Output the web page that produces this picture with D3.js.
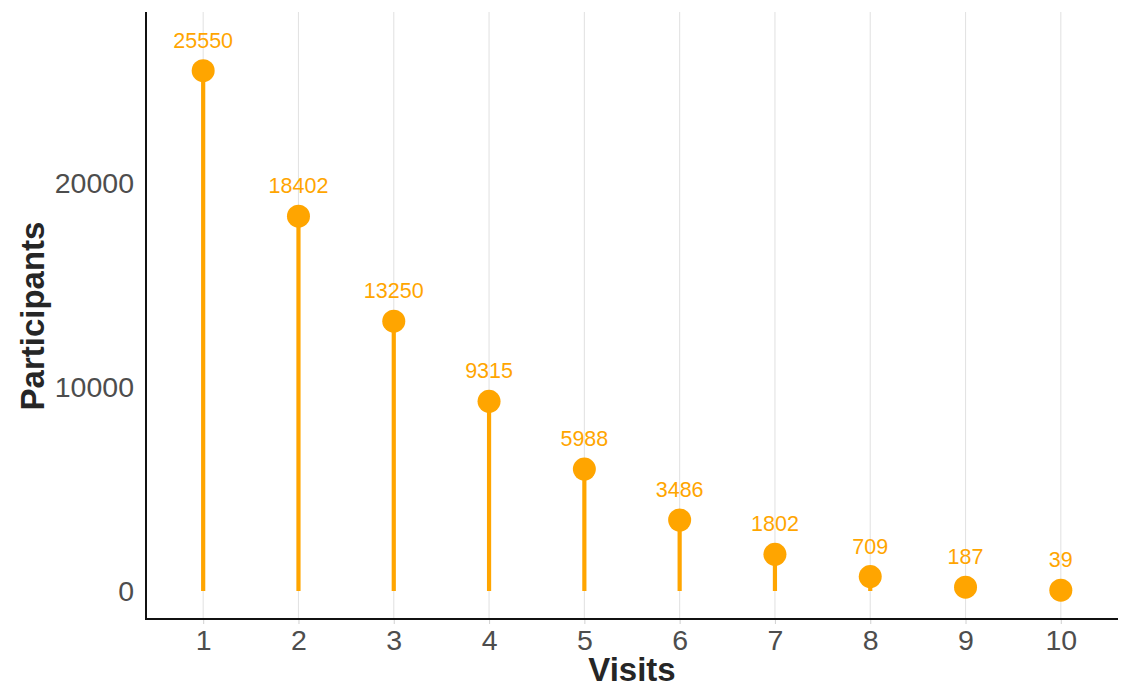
<!DOCTYPE html>
<html>
<head>
<meta charset="utf-8">
<script src="https://cdn.jsdelivr.net/npm/d3@7"></script>
<style>
  html, body { margin: 0; padding: 0; background: #ffffff; }
  svg { display: block; }
</style>
</head>
<body>
<svg id="chart" width="1133" height="692"></svg>
<script>
const visits = [1, 2, 3, 4, 5, 6, 7, 8, 9, 10];
const participants = [25550, 18402, 13250, 9315, 5988, 3486, 1802, 709, 187, 39];
const yTicks = [0, 10000, 20000];
const xTitle = "Visits";
const yTitle = "Participants";

(function () {
const pLeft = 146, pRight = 1118, pTop = 12, pBottom = 619;
const orange = "#FFA500";
const font = "'Liberation Sans', Arial, Helvetica, sans-serif";

const svg = d3.select("#chart");
const x = d3.scaleLinear().domain([0.4, 10.6]).range([pLeft, pRight]);
const y = d3.scaleLinear().domain([-1375, 28430]).range([pBottom, pTop]);

// vertical gridlines
svg.append("g").selectAll("line").data(visits).join("line")
  .attr("x1", d => x(d)).attr("x2", d => x(d))
  .attr("y1", pTop).attr("y2", pBottom)
  .attr("stroke", "#e3e3e3").attr("stroke-width", 1.1);

// x axis
const xAxis = d3.axisBottom(x).tickValues(visits).tickSize(5).tickPadding(6).tickFormat(d3.format("d"));
const gx = svg.append("g").attr("transform", `translate(0,${pBottom})`).call(xAxis);
gx.select(".domain").remove();
gx.selectAll(".tick line").attr("stroke", "#d4d4d4").attr("stroke-width", 1.1);
gx.selectAll(".tick text").attr("fill", "#4d4d4d")
  .style("font-family", font).style("font-size", "28.5px");

// y axis
const yAxis = d3.axisLeft(y).tickValues(yTicks).tickSize(0).tickPadding(12).tickFormat(d3.format("d"));
const gy = svg.append("g").attr("transform", `translate(${pLeft},0)`).call(yAxis);
gy.select(".domain").remove();
gy.selectAll(".tick text").attr("fill", "#4d4d4d")
  .style("font-family", font).style("font-size", "28.5px");

// axis lines
svg.append("line").attr("x1", pLeft).attr("x2", pLeft).attr("y1", pTop).attr("y2", pBottom + 1)
  .attr("stroke", "#111").attr("stroke-width", 2);
svg.append("line").attr("x1", pLeft - 1).attr("x2", pRight).attr("y1", pBottom).attr("y2", pBottom)
  .attr("stroke", "#111").attr("stroke-width", 2);

const data = visits.map((v, i) => ({ v, p: participants[i] }));

// stems
svg.append("g").selectAll("line").data(data).join("line")
  .attr("x1", d => x(d.v)).attr("x2", d => x(d.v))
  .attr("y1", y(0)).attr("y2", d => y(d.p))
  .attr("stroke", orange).attr("stroke-width", 4.2);

// points
svg.append("g").selectAll("circle").data(data).join("circle")
  .attr("cx", d => x(d.v)).attr("cy", d => y(d.p)).attr("r", 11.5)
  .attr("fill", orange);

// labels
svg.append("g").selectAll("text").data(data).join("text")
  .attr("x", d => x(d.v)).attr("y", d => y(d.p) - 30)
  .attr("text-anchor", "middle").attr("dominant-baseline", "central")
  .attr("fill", orange)
  .style("font-family", font).style("font-size", "21.5px")
  .text(d => d.p);

// titles
svg.append("text").attr("x", (pLeft + pRight) / 2).attr("y", 681)
  .attr("text-anchor", "middle").attr("fill", "#262626")
  .style("font-family", font).style("font-size", "33px").style("font-weight", "bold")
  .text(xTitle);
svg.append("text").attr("transform", `translate(44,316) rotate(-90)`)
  .attr("text-anchor", "middle").attr("fill", "#262626")
  .style("font-family", font).style("font-size", "33px").style("font-weight", "bold")
  .text(yTitle);
})();
</script>
</body>
</html>
